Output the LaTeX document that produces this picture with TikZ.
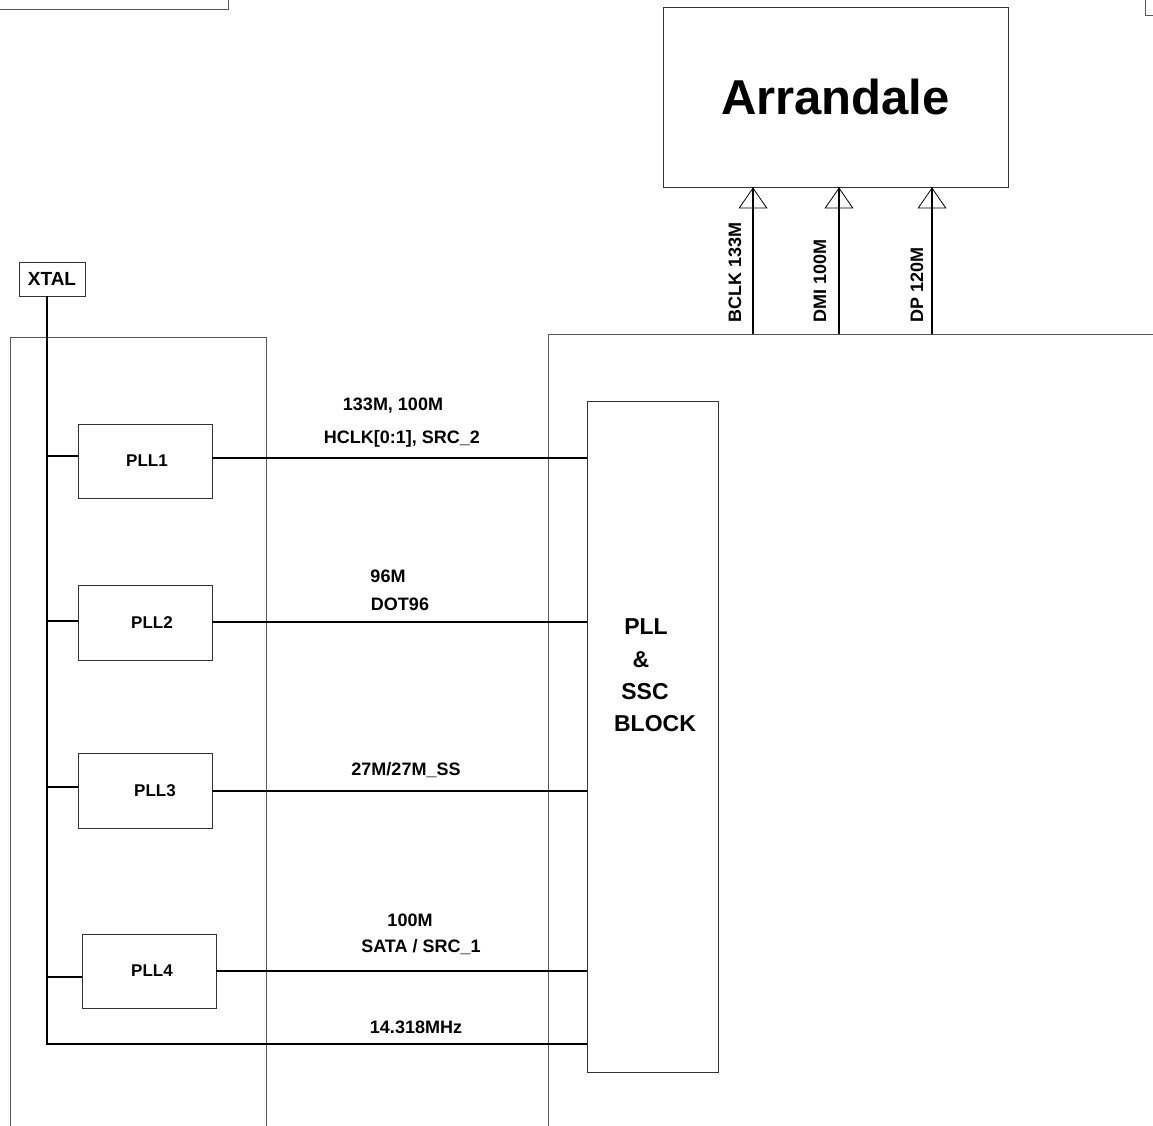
\documentclass[tikz,border=0pt]{standalone}
\usepackage{fontspec}
\setmainfont{Liberation Sans}
\usetikzlibrary{arrows.meta}
\begin{document}
\begin{tikzpicture}[x=1pt,y=-1pt,
  frame/.style={draw=black!65, line width=0.9pt},
  box/.style={draw=black!80, line width=0.9pt, inner sep=0pt, font=\fontsize{17}{20}\selectfont\bfseries},
  sig/.style={draw=black, line width=1.3pt},
  lbl/.style={inner sep=0pt, font=\fontsize{18}{21}\selectfont\bfseries},
  big/.style={inner sep=0pt, font=\fontsize{23}{27}\selectfont\bfseries},
  tip/.style={draw=black, line width=0.8pt, -{Triangle[open, length=21pt, width=29pt]}}
]
\useasboundingbox (0,0) rectangle (1153,1125);
% partial boxes at the top corners
\draw[frame] (-5,-20) rectangle (228,9);
\draw[frame] (1145,-20) rectangle (1165,15);
% large frames
\draw[frame] (10,1140) -- (10,337) -- (266,337) -- (266,1140);
\draw[frame] (548,1140) -- (548,334) -- (1165,334);
% Arrandale
\node[box, minimum width=345, minimum height=180, font=\fontsize{49}{56}\selectfont\bfseries] (arr) at (835.5,97) {Arrandale};
% XTAL
\node[box, minimum width=66, minimum height=34, font=\fontsize{19}{22}\selectfont\bfseries] (xtal) at (52,279) {XTAL};
% PLL boxes
\node[box, minimum width=134, minimum height=74] (pll1) at (145,461) {\hspace*{4pt}PLL1};
\node[box, minimum width=134, minimum height=75] (pll2) at (145,622.5) {\hspace*{14pt}PLL2};
\node[box, minimum width=134, minimum height=75] (pll3) at (145,790.5) {\hspace*{20pt}PLL3};
\node[box, minimum width=134, minimum height=74] (pll4) at (149,971) {\hspace*{6pt}PLL4};
% PLL & SSC block
\node[draw=black!80, line width=0.9pt, minimum width=131, minimum height=671, inner sep=0pt] (blk) at (652.5,736.5) {};
\node[big] (bt1) at (646,627) {PLL};
\node[big] (bt2) at (641,660) {\&};
\node[big] (bt3) at (645,692) {SSC};
\node[big] (bt4) at (655,724) {BLOCK};
% bus from XTAL
\coordinate (xtop) at (47,296);
\coordinate (bus) at (47,1044);
\draw[sig] (xtop) -- (bus) -- (bus -| blk.west);
\draw[sig] (47,456) -- (pll1.west |- 0,456);
\draw[sig] (47,621) -- (pll2.west |- 0,621);
\draw[sig] (47,787) -- (pll3.west |- 0,787);
\draw[sig] (47,977) -- (pll4.west |- 0,977);
% outputs
\draw[sig] (pll1.east |- 0,458) -- (blk.west |- 0,458);
\draw[sig] (pll2.east |- 0,622) -- (blk.west |- 0,622);
\draw[sig] (pll3.east |- 0,791) -- (blk.west |- 0,791);
\draw[sig] (pll4.east |- 0,971) -- (blk.west |- 0,971);
% output labels
\node[lbl] (l1a) at (393,406) {133M, 100M};
\node[lbl] (l1b) at (402,439) {HCLK[0:1], SRC\_2};
\node[lbl] (l2a) at (388,576) {96M};
\node[lbl] (l2b) at (400,604) {DOT96};
\node[lbl] (l3) at (406,770) {27M/27M\_SS};
\node[lbl] (l4a) at (410,920) {100M};
\node[lbl] (l4b) at (421,947) {SATA / SRC\_1};
\node[lbl] (l5) at (416,1027) {14.318MHz};
% clocks to Arrandale
\coordinate (c1) at (753,334);
\coordinate (c2) at (839,334);
\coordinate (c3) at (932,334);
\foreach \c in {c1,c2,c3} {
  \draw[tip] (\c) -- (arr.south -| \c);
  \draw[sig] (\c) -- (arr.south -| \c);
}
\node[lbl, rotate=90, anchor=west] (v1) at (735,323) {BCLK 133M};
\node[lbl, rotate=90, anchor=west] (v2) at (820,323) {DMI 100M};
\node[lbl, rotate=90, anchor=west] (v3) at (917,323) {DP 120M};
\end{tikzpicture}
\end{document}
